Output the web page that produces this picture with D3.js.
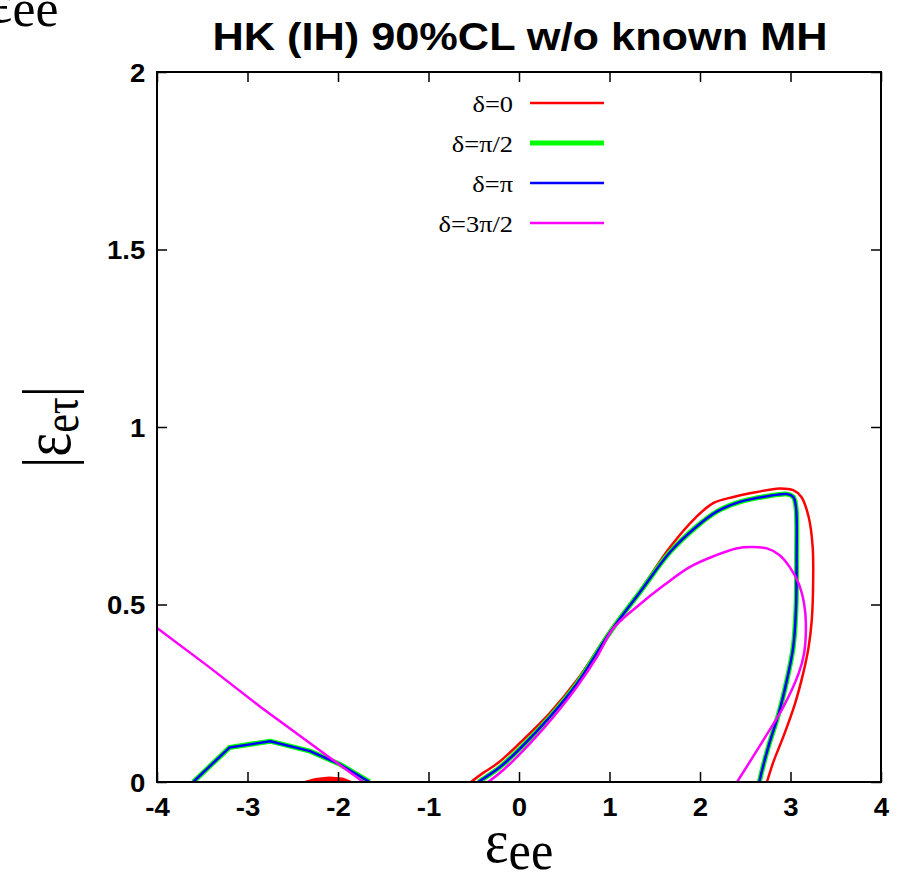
<!DOCTYPE html>
<html>
<head>
<meta charset="utf-8">
<script src="https://cdn.jsdelivr.net/npm/d3@7"></script>
<style>
body {margin: 0; background: #fff;}
svg {display: block;}
</style>
</head>
<body>
<svg width="908" height="879"></svg>
<script>
var x_ticks = [-4, -3, -2, -1, 0, 1, 2, 3, 4];
var y_ticks = [0, 0.5, 1, 1.5, 2];
var y_tick_labels = ["0", "0.5", "1", "1.5", "2"];
var legend_labels = ["δ=0", "δ=π/2", "δ=π", "δ=3π/2"];

// delta = 0
var d0_main = [[-0.53, 0], [-0.40, 0.025], [-0.23, 0.054], [0.01, 0.110], [0.34, 0.194], [0.64, 0.287],
    [1.01, 0.428], [1.34, 0.540], [1.67, 0.662], [1.96, 0.747], [2.15, 0.786], [2.37, 0.803], [2.63, 0.817],
    [2.88, 0.827], [3.03, 0.822], [3.12, 0.803], [3.20, 0.747], [3.245, 0.662], [3.25, 0.559], [3.235, 0.456],
    [3.20, 0.380], [3.14, 0.306], [3.05, 0.221], [2.92, 0.127], [2.81, 0.056], [2.74, 0]];
var d0_small = [[-2.36, 0], [-2.25, 0.008], [-2.1, 0.012], [-1.95, 0.009], [-1.86, 0]];

// delta = pi/2
var d90_left = [[-3.60, 0], [-3.20, 0.097], [-2.75, 0.115], [-2.31, 0.087], [-1.98, 0.050], [-1.65, 0]];
var d90_right = [[-0.45, 0], [-0.21, 0.042], [0.03, 0.099], [0.34, 0.183], [0.64, 0.277], [1.01, 0.423],
    [1.34, 0.536], [1.67, 0.648], [1.96, 0.719], [2.18, 0.761], [2.44, 0.789], [2.74, 0.805], [2.96, 0.811],
    [3.03, 0.803], [3.06, 0.775], [3.067, 0.625], [3.06, 0.484], [3.03, 0.380], [2.96, 0.287], [2.87, 0.193],
    [2.755, 0.099], [2.655, 0]];

// delta = pi
var d180_left = [[-3.60, 0], [-3.20, 0.097], [-2.75, 0.115], [-2.31, 0.087], [-1.98, 0.050], [-1.65, 0]];
var d180_right = [[-0.45, 0], [-0.21, 0.042], [0.03, 0.099], [0.34, 0.183], [0.64, 0.277], [1.01, 0.423],
    [1.34, 0.536], [1.67, 0.648], [1.96, 0.719], [2.18, 0.761], [2.44, 0.789], [2.74, 0.805], [2.96, 0.811],
    [3.03, 0.803], [3.06, 0.775], [3.067, 0.625], [3.06, 0.484], [3.03, 0.380], [2.96, 0.287], [2.87, 0.193],
    [2.755, 0.099], [2.655, 0]];

// delta = 3pi/2
var d270_left = [[-4.0, 0.434], [-3.43, 0.325], [-2.86, 0.212], [-2.12, 0.074], [-1.72, 0]];
var d270_right = [[-0.34, 0], [-0.155, 0.038], [0.12, 0.108], [0.38, 0.183], [0.64, 0.268], [0.86, 0.352],
    [1.04, 0.432], [1.30, 0.493], [1.60, 0.554], [1.89, 0.606], [2.18, 0.639], [2.40, 0.658], [2.57, 0.662],
    [2.74, 0.658], [2.88, 0.639], [2.99, 0.606], [3.09, 0.559], [3.15, 0.503], [3.17, 0.446], [3.15, 0.362],
    [3.09, 0.306], [2.92, 0.211], [2.70, 0.118], [2.41, 0]];

var svg = d3.select("svg"),
    margin = {top: 72, right: 27, bottom: 97, left: 157},
    width = +svg.attr("width") - margin.left - margin.right,
    height = +svg.attr("height") - margin.top - margin.bottom,
    g = svg.append("g").attr("transform", "translate(" + margin.left + "," + margin.top + ")");

var x = d3.scaleLinear().domain([-4, 4]).range([0, width]);
var y = d3.scaleLinear().domain([0, 2]).range([height, 0]);

var sans = "'Liberation Sans', Arial, sans-serif";
var serif = "'Liberation Serif', 'Times New Roman', serif";

svg.append("defs").append("clipPath").attr("id", "clip")
    .append("rect").attr("width", width).attr("height", height);

var smooth = d3.line().x(function (d) { return x(d[0]); }).y(function (d) { return y(d[1]); })
    .curve(d3.curveCatmullRom.alpha(0.5));
var straight = d3.line().x(function (d) { return x(d[0]); }).y(function (d) { return y(d[1]); });

var curves = [
    {data: d0_main, line: smooth, color: "#ff0000", w: 2.5},
    {data: d90_left, line: straight, color: "#00ff00", w: 5},
    {data: d90_right, line: smooth, color: "#00ff00", w: 5},
    {data: d180_left, line: straight, color: "#0000ff", w: 2.5},
    {data: d180_right, line: smooth, color: "#0000ff", w: 2.5},
    {data: d270_left, line: straight, color: "#ff00ff", w: 2.5},
    {data: d270_right, line: smooth, color: "#ff00ff", w: 2.5}
];

var plot = g.append("g").attr("clip-path", "url(#clip)");

plot.append("path")
    .attr("d", straight(d0_small) + "Z")
    .attr("fill", "#ff0000")
    .attr("stroke", "#ff0000")
    .attr("stroke-width", 2.5);

plot.selectAll("path.curve")
    .data(curves)
    .enter().append("path")
    .attr("class", "curve")
    .attr("d", function (d) { return d.line(d.data); })
    .attr("fill", "none")
    .attr("stroke", function (d) { return d.color; })
    .attr("stroke-width", function (d) { return d.w; })
    .attr("stroke-linejoin", "round");

// axes, ticks pointing inward
var xb = g.append("g")
    .attr("transform", "translate(0," + height + ")")
    .call(d3.axisBottom(x).tickValues(x_ticks).tickSize(-10).tickPadding(16).tickFormat(d3.format("d")));
var xt = g.append("g")
    .call(d3.axisTop(x).tickValues(x_ticks).tickSize(-10).tickFormat(""));
var yl = g.append("g")
    .call(d3.axisLeft(y).tickValues(y_ticks).tickSize(-10).tickPadding(11)
        .tickFormat(function (d, i) { return y_tick_labels[i]; }));
var yr = g.append("g")
    .attr("transform", "translate(" + width + ",0)")
    .call(d3.axisRight(y).tickValues(y_ticks).tickSize(-10).tickFormat(""));

[xb, xt, yl, yr].forEach(function (a) {
    a.select(".domain").remove();
    a.selectAll("line").attr("stroke", "#000").attr("stroke-width", 1.5);
    a.selectAll("text")
        .attr("font-family", sans)
        .attr("font-weight", "bold")
        .attr("font-size", 26)
        .attr("fill", "#000")
        .attr("transform", "scale(1.06,1)");
});
xb.selectAll("text").text(function (d) { return String(d); });
yl.selectAll("text").attr("dy", "0.36em");

g.append("rect")
    .attr("width", width)
    .attr("height", height)
    .attr("fill", "none")
    .attr("stroke", "#000")
    .attr("stroke-width", 2);

// legend
var legend = g.append("g")
    .selectAll("g")
    .data(legend_labels)
    .enter().append("g")
    .attr("transform", function (d, i) {
        return "translate(0," + (31 + i * 40) + ")";
    });

legend.append("line")
    .attr("x1", 373)
    .attr("x2", 447)
    .attr("stroke", function (d, i) { return ["#ff0000", "#00ff00", "#0000ff", "#ff00ff"][i]; })
    .attr("stroke-width", function (d, i) { return i === 1 ? 5 : 2.5; });

legend.append("text")
    .attr("transform", "translate(356,9) scale(1.1,1)")
    .attr("text-anchor", "end")
    .attr("font-family", serif)
    .attr("font-size", 24)
    .text(function (d) { return d; });

// title
svg.append("text")
    .attr("transform", "translate(520,50) scale(1.14,1)")
    .attr("text-anchor", "middle")
    .attr("font-family", sans)
    .attr("font-weight", "bold")
    .attr("font-size", 38)
    .text("HK (IH) 90%CL w/o known MH");

// x label
var xl = svg.append("text")
    .attr("transform", "translate(519,862) scale(1.05,1.15)")
    .attr("text-anchor", "middle")
    .attr("font-family", serif)
    .attr("font-size", 48);
xl.append("tspan").attr("font-size", 54).text("ε");
xl.append("tspan").attr("dy", 6).text("ee");

// leftover label fragment at the top-left corner
var frag = svg.append("text")
    .attr("transform", "translate(-12,22) scale(1.08,1.12)")
    .attr("font-family", serif)
    .attr("font-size", 48);
frag.append("tspan").attr("font-size", 54).text("ε");
frag.append("tspan").attr("dy", 4).text("ee");

// y label
var ylab = svg.append("text")
    .attr("transform", "translate(70,427) rotate(-90) scale(1.05,1.25)")
    .attr("text-anchor", "middle")
    .attr("font-family", serif)
    .attr("font-size", 54);
ylab.append("tspan").text("|ε");
ylab.append("tspan").attr("font-size", 40).attr("dy", 6).text("eτ");
ylab.append("tspan").attr("dy", -6).text("|");
</script>
</body>
</html>
